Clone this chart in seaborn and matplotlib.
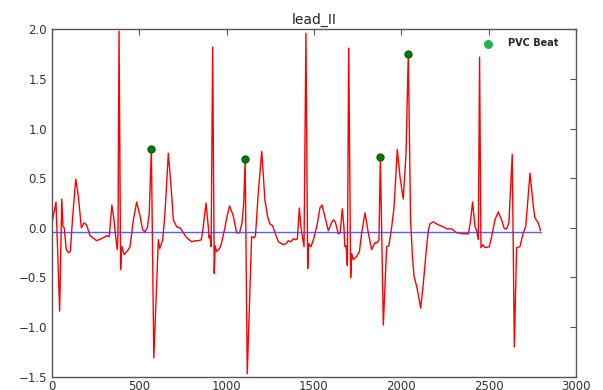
import matplotlib
matplotlib.use("Agg")
import matplotlib.pyplot as plt
import pandas as pd
import seaborn as sns

# ECG lead II trace (sample index, amplitude)
sample_idx = [0, 23, 44, 56, 63, 70, 82, 95, 105, 118, 136, 151, 168, 183, 198, 218, 256, 294, 313, 328,
              343, 355, 362, 374, 378, 384, 393, 399, 405, 413, 433, 447, 466, 485, 504, 519, 532, 546, 557, 569,
              583, 609, 617, 634, 647, 666, 679, 695, 714, 733, 748, 771, 800, 819, 838, 855, 866, 882, 895, 899,
              905, 911, 920, 929, 934, 943, 962, 971, 990, 1000, 1017, 1038, 1057, 1074, 1088, 1098, 1106, 1118,
              1143, 1157, 1165, 1181, 1201, 1219, 1235, 1248, 1263, 1277, 1296, 1324, 1340, 1353, 1368, 1382,
              1395, 1405, 1416, 1423, 1430, 1443, 1454, 1464, 1470, 1483, 1500, 1519, 1534, 1546, 1563, 1582,
              1600, 1611, 1622, 1639, 1650, 1662, 1671, 1677, 1684, 1691, 1699, 1710, 1716, 1725, 1744, 1760,
              1773, 1792, 1811, 1830, 1849, 1863, 1872, 1880, 1897, 1916, 1929, 1945, 1958, 1977, 1992, 2011,
              2027, 2040, 2053, 2064, 2073, 2088, 2099, 2111, 2126, 2141, 2155, 2164, 2183, 2212, 2240, 2260,
              2288, 2317, 2355, 2384, 2397, 2408, 2422, 2430, 2441, 2448, 2456, 2466, 2479, 2504, 2517, 2536,
              2555, 2574, 2590, 2603, 2616, 2635, 2647, 2660, 2679, 2698, 2712, 2737, 2756, 2765, 2784, 2797]
amplitude = [0.05, 0.26, -0.84, 0.29, 0.01, 0.0, -0.22, -0.25, -0.24, 0.1, 0.49, 0.32, 0.0, 0.05, 0.03, -0.08,
             -0.13, -0.10, -0.08, -0.09, 0.23, 0.08, -0.05, -0.22, -0.05, 1.98, -0.42, -0.19, -0.22, -0.27, -0.23,
             -0.19, 0.08, 0.26, 0.12, -0.02, -0.04, 0.0, 0.15, 0.79, -1.31, -0.12, -0.21, -0.12, 0.15, 0.75, 0.48,
             0.08, 0.01, 0.0, -0.04, -0.10, -0.14, -0.13, -0.13, -0.12, 0.01, 0.25, 0.01, -0.1, -0.08, -0.19, 1.82,
             -0.46, -0.18, -0.24, -0.20, -0.15, 0.0, 0.1, 0.22, 0.12, -0.05, -0.05, 0.05, 0.25, 0.69, -1.47,
             -0.09, -0.10, -0.08, 0.35, 0.77, 0.28, 0.11, 0.04, 0.02, -0.05, -0.14, -0.17, -0.16, -0.13, -0.14,
             -0.11, -0.12, -0.11, 0.2, 0.05, -0.05, -0.19, 1.96, -0.41, -0.16, -0.19, -0.10, 0.04, 0.2, 0.23,
             0.11, -0.03, 0.05, 0.08, 0.06, -0.06, -0.05, 0.19, 0.02, -0.19, -0.18, -0.38, 1.81, -0.50, -0.26,
             -0.32, -0.29, -0.24, -0.05, 0.15, -0.05, -0.22, -0.15, -0.15, -0.12, 0.71, -0.98, -0.19, -0.18,
             0.01, 0.2, 0.79, 0.52, 0.29, 0.75, 1.75, 0.08, -0.30, -0.49, -0.59, -0.69, -0.81, -0.56, -0.26,
             -0.02, 0.04, 0.06, 0.03, 0.01, -0.01, -0.01, -0.05, -0.06, -0.06, 0.08, 0.26, 0.01, -0.02, -0.12,
             1.72, -0.20, -0.17, -0.20, -0.19, -0.09, 0.08, 0.16, 0.08, -0.01, -0.01, 0.05, 0.74, -1.20, -0.20,
             -0.19, -0.05, 0.01, 0.55, 0.21, 0.10, 0.05, -0.03]

# baseline (mean level) drawn across the record
baseline_x = [0, 2797]
baseline_level = -0.04

# detected PVC beats
pvc_idx = [569, 1106, 1880, 2040]
pvc_amp = [0.79, 0.69, 0.71, 1.75]

sig = pd.DataFrame({"idx": sample_idx, "amp": amplitude})
base = pd.DataFrame({"idx": baseline_x, "amp": [baseline_level] * len(baseline_x)})
pvc = pd.DataFrame({"idx": pvc_idx, "amp": pvc_amp})

sns.set_style("white")
plt.rcParams["font.family"] = ["DejaVu Sans"]

fig = plt.figure(figsize=(6.03, 3.9), dpi=100)
ax = fig.add_axes([0.0862, 0.034, 0.869, 0.891])

sns.lineplot(data=sig, x="idx", y="amp", color="red", lw=1.0, ax=ax, sort=False)
sns.lineplot(data=base, x="idx", y="amp", color="#4040ff", alpha=0.85, lw=1.0, ax=ax)
sns.scatterplot(data=pvc, x="idx", y="amp", color="#007a00", edgecolor="#004400",
                s=28, linewidth=0.6, ax=ax, label="PVC Beat", zorder=5)

ax.set_xlim(0, 3000)
ax.set_ylim(-1.5, 2.0)
ax.set_xticks(range(0, 3001, 500))
ax.set_yticks([-1.5, -1.0, -0.5, 0.0, 0.5, 1.0, 1.5, 2.0])
ax.set_xlabel("")
ax.set_ylabel("")
ax.set_title("lead_II", fontsize=10, color="#222222", pad=4)

ax.tick_params(direction="in", length=4, width=0.8, top=True, right=True,
               labelsize=8.5, labelcolor="#333333", color="#555555")
ax.tick_params(axis="x", pad=2)
for sp in ax.spines.values():
    sp.set_color("#555555")
    sp.set_linewidth(1.0)

leg = ax.legend(loc="upper right", bbox_to_anchor=(0.973, 0.985), frameon=False,
                prop={"weight": "bold", "size": 7}, handletextpad=1.0,
                borderaxespad=0.0, markerscale=1.1)
for h in leg.legend_handles:
    h.set_facecolor("#22b34a")
    h.set_edgecolor("#22b34a")

fig.savefig("out.png", dpi=100)
